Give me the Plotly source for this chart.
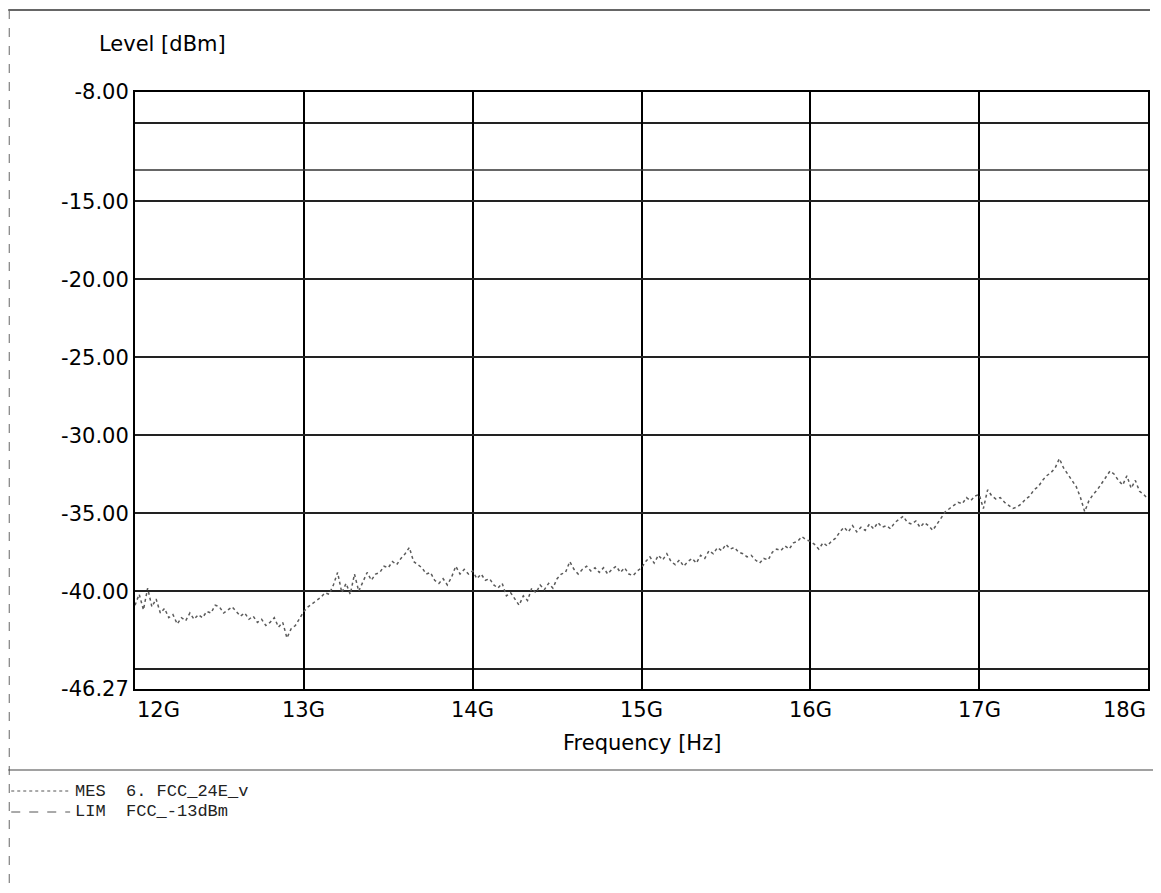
import numpy as np
import plotly.graph_objects as go

# measured level (dBm), 12 GHz .. 18 GHz in 25 MHz steps
level_dbm = [
    -40.9, -40.2, -41.2, -39.8, -41.0, -40.5, -41.4, -41.1, -41.7, -41.5,
    -42.1, -41.7, -41.9, -41.4, -41.8, -41.5, -41.7, -41.3, -41.4, -40.9,
    -41.0, -41.4, -41.2, -41.0, -41.3, -41.6, -41.4, -41.8, -41.6, -42.0,
    -41.8, -42.2, -42.0, -41.7, -42.3, -42.0, -43.0, -42.4, -42.2, -41.7,
    -41.3, -41.0, -40.8, -40.6, -40.4, -40.1, -40.2, -39.6, -38.8, -40.1,
    -39.5, -40.2, -38.9, -40.0, -39.4, -38.8, -39.3, -38.9, -38.8, -38.4,
    -38.5, -38.1, -38.3, -37.9, -37.6, -37.2, -38.1, -38.3, -38.5, -38.9,
    -38.8, -39.3, -39.5, -39.2, -39.6, -39.1, -38.4, -38.9, -38.6, -38.9,
    -38.7, -39.2, -38.9, -39.3, -39.2, -39.6, -39.8, -39.5, -40.3, -40.1,
    -40.5, -40.9, -40.3, -40.6, -39.8, -40.1, -39.6, -39.9, -39.5, -39.8,
    -39.2, -38.9, -38.8, -38.1, -38.6, -38.9, -38.6, -38.4, -38.7, -38.5,
    -38.8, -38.5, -38.9, -38.6, -38.4, -38.8, -38.5, -38.9, -39.0, -38.7,
    -38.5, -38.1, -37.8, -38.2, -37.7, -38.0, -37.6, -38.1, -38.3, -38.0,
    -38.4, -38.1, -37.9, -38.2, -37.7, -37.9, -37.4, -37.6, -37.2, -37.4,
    -37.0, -37.3, -37.2, -37.5, -37.6, -37.8, -37.7, -38.0, -38.2, -37.9,
    -38.0, -37.5, -37.3, -37.4, -37.1, -37.3, -36.9, -36.8, -36.5, -36.7,
    -36.8, -37.0, -37.3, -36.9, -37.1, -36.8, -36.6, -36.2, -35.9, -36.2,
    -35.8, -36.2, -35.9, -36.1, -35.7, -36.0, -35.6, -35.9, -35.8, -36.0,
    -35.6, -35.4, -35.2, -35.6, -35.7, -35.5, -35.9, -35.6, -35.8, -36.1,
    -35.7, -35.3, -34.9, -34.7, -34.5, -34.3, -34.4, -34.0, -34.2, -33.9,
    -33.8, -34.7, -33.5, -33.9, -34.1, -34.0, -34.3, -34.5, -34.7, -34.6,
    -34.4, -34.1, -33.9, -33.5, -33.3, -32.9, -32.6, -32.4, -32.1, -31.5,
    -32.1, -32.5, -32.9, -33.3, -34.0, -34.9, -34.2, -33.8, -33.5, -33.1,
    -32.7, -32.3, -32.5, -32.9, -33.2, -32.6, -33.4, -32.9, -33.6, -33.8,
    -34.1,
]
freq_ghz = np.linspace(12, 18, len(level_dbm))

limit_dbm = -13.0

x_ticks = [12, 13, 14, 15, 16, 17, 18]
x_labels = ["12G", "13G", "14G", "15G", "16G", "17G", "18G"]
y_ticks = [-8.0, -15.0, -20.0, -25.0, -30.0, -35.0, -40.0, -46.27]
y_labels = ["-8.00", "-15.00", "-20.00", "-25.00", "-30.00", "-35.00", "-40.00", "-46.27"]
y_extra_grid = [-10.0, -45.0]

legend_rows = [("MES", "6. FCC_24E_v", "dot"), ("LIM", "FCC_-13dBm", "dash")]

# page has an 8px body margin, so the figure is drawn 8px in
OFF = 8
W, H = 1161 - 2 * OFF, 893 - 2 * OFF
# plot box in page pixels
L, R, T, B = 135, 1150, 92, 689
pw, ph = R - L, B - T


def fx(px):
    # page x pixel -> plot-area fraction
    return (px - L) / pw


def fy(py):
    return (B - py) / ph


fig = go.Figure()
fig.add_trace(go.Scatter(
    x=freq_ghz, y=level_dbm, mode="lines",
    line=dict(color="#5a5a5a", width=1.5, dash="dot"),
    showlegend=False,
))
fig.add_trace(go.Scatter(
    x=[x_ticks[0], x_ticks[-1]], y=[limit_dbm, limit_dbm], mode="lines",
    line=dict(color="#333333", width=1.5),
    showlegend=False,
))

font = dict(family="DejaVu Sans", size=21, color="black")

fig.update_xaxes(
    range=[x_ticks[0], x_ticks[-1]], tickvals=x_ticks, showticklabels=False,
    showgrid=True, gridcolor="black", gridwidth=2,
    showline=True, linecolor="black", linewidth=2, mirror=True,
    zeroline=False, ticks="",
)
fig.update_yaxes(
    range=[y_ticks[-1], y_ticks[0]], tickvals=y_ticks, ticktext=y_labels,
    tickfont=font, ticks="", ticklen=0,
    showgrid=True, gridcolor="#222222", gridwidth=1.5,
    minor=dict(tickvals=y_extra_grid, showgrid=True, gridcolor="#222222", gridwidth=1.5, ticks=""),
    showline=True, linecolor="black", linewidth=2, mirror=True,
    zeroline=False,
)

ann = []
for i, (v, t) in enumerate(zip(x_ticks, x_labels)):
    anchor = "left" if i == 0 else ("right" if i == len(x_ticks) - 1 else "center")
    ann.append(dict(x=v, y=0, xref="x", yref="paper", text=t, showarrow=False,
                    xanchor=anchor, yanchor="top", yshift=-7, font=font))
ann.append(dict(x=fx((L + R) / 2), y=fy(743), xref="paper", yref="paper",
                text="Frequency [Hz]", showarrow=False, xanchor="center",
                yanchor="middle", font=font))
ann.append(dict(x=fx(97), y=fy(44), xref="paper", yref="paper",
                text="Level [dBm]", showarrow=False, xanchor="left",
                yanchor="middle", font=font))

shapes = [
    dict(type="line", xref="paper", yref="paper", x0=fx(8), x1=fx(1152),
         y0=fy(10), y1=fy(10), line=dict(color="#333", width=1.5)),
    dict(type="line", xref="paper", yref="paper", x0=fx(9), x1=fx(9),
         y0=fy(10), y1=fy(893), line=dict(color="#666", width=1, dash="dash")),
    dict(type="line", xref="paper", yref="paper", x0=fx(8), x1=fx(1161),
         y0=fy(770), y1=fy(770), line=dict(color="#444", width=1.2)),
]
for k, (tag, name, dash) in enumerate(legend_rows):
    yy = 791 + 21 * k
    shapes.append(dict(type="line", xref="paper", yref="paper", x0=fx(11), x1=fx(70),
                       y0=fy(yy), y1=fy(yy),
                       line=dict(color="#555", width=1, dash=dash)))
    ann.append(dict(x=fx(73), y=fy(yy), xref="paper", yref="paper",
                    text=tag + "\u00a0\u00a0" + name, showarrow=False,
                    xanchor="left", yanchor="middle",
                    font=dict(family="Liberation Mono", size=17, color="#222")))

fig.update_layout(
    width=W, height=H,
    margin=dict(l=L - OFF, r=W + OFF - R, t=T - OFF, b=H + OFF - B, pad=0),
    plot_bgcolor="white", paper_bgcolor="white",
    annotations=ann, shapes=shapes,
)
fig.write_html("out.html")
